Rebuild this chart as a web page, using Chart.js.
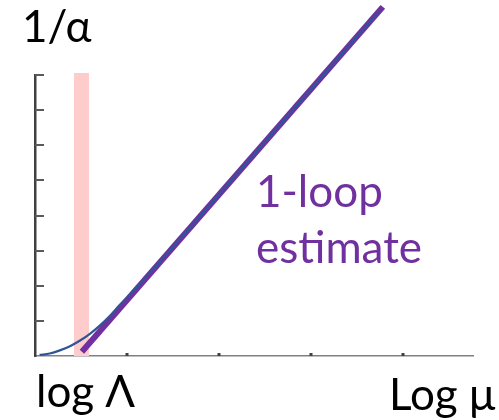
<!DOCTYPE html>
<html>
<head>
<meta charset="utf-8">
<script src="https://cdn.jsdelivr.net/npm/chart.js@4"></script>
<style>
  body { margin: 0; background: #fff; }
  #wrap { position: relative; width: 499px; height: 420px; }
  .lbl { position: absolute; font-family: Lato, "Open Sans", sans-serif; font-size: 44px; line-height: 44px; white-space: nowrap; color: #000; }
  .loop { color: #7030a0; }
</style>
</head>
<body>
<div id="wrap">
  <canvas id="myChart" width="499" height="420"></canvas>
  <div class="lbl" style="left:22px; top:3px;">1/α</div>
  <div class="lbl loop" style="left:256px; top:168px;">1-loop</div>
  <div class="lbl loop" style="left:256px; top:224px;">estimate</div>
  <div class="lbl" style="left:36px; top:368px;">log Λ</div>
  <div class="lbl" style="left:389px; top:371px;">Log μ</div>
</div>
<script>
// running coupling curve (blue)
var curveX = [0.05, 0.16, 0.27, 0.38, 0.49, 0.60, 0.71, 0.82, 0.92, 1.03, 1.14, 1.25, 1.36, 2.50, 3.75];
var curveY = [0.03, 0.07, 0.16, 0.28, 0.44, 0.64, 0.88, 1.16, 1.45, 1.74, 2.06, 2.37, 2.69, 6.10, 9.84];
// 1-loop straight line (purple)
var loopX = [0.51, 3.78];
var loopY = [0.12, 9.94];
// shaded band at log Lambda
var bandX = [0.505, 0.505];
var bandY = [0, 8.06];
// axis tick marks
var xTicks = [1, 2, 3, 4];
var yTicks = [1, 2, 3, 4, 5, 6, 7, 8];

function pts(xs, ys) {
    return xs.map(function(v, i) { return {x: v, y: ys[i]}; });
}

// ticks drawn on the inside of the axes
var innerTicks = {
    id: 'innerTicks',
    beforeDatasetsDraw: function(chart) {
        var ctx = chart.ctx, x = chart.scales.x, y = chart.scales.y;
        ctx.save();
        ctx.strokeStyle = '#5a5a5a';
        ctx.lineWidth = 2;
        yTicks.forEach(function(v) {
            var py = Math.round(y.getPixelForValue(v));
            ctx.beginPath();
            ctx.moveTo(x.left, py);
            ctx.lineTo(x.left + 9, py);
            ctx.stroke();
        });
        ctx.fillStyle = '#404040';
        xTicks.forEach(function(v) {
            var px = Math.round(x.getPixelForValue(v));
            ctx.fillRect(px - 1.5, y.bottom - 3, 3, 3);
        });
        ctx.restore();
    }
};

var ctx = document.getElementById('myChart').getContext('2d');
var myChart = new Chart(ctx, {
    type: 'line',
    data: {
        datasets: [{
            label: 'running',
            data: pts(curveX, curveY),
            borderColor: '#2f5597',
            borderWidth: 2.2,
            pointRadius: 0,
            cubicInterpolationMode: 'monotone',
            clip: false,
            order: 0
        }, {
            label: '1-loop',
            data: pts(loopX, loopY),
            borderColor: '#7030a0',
            borderWidth: 6,
            borderCapStyle: 'butt',
            pointRadius: 0,
            clip: false,
            order: 1
        }, {
            label: 'band',
            data: pts(bandX, bandY),
            borderColor: '#ffcccc',
            borderWidth: 15,
            borderCapStyle: 'butt',
            pointRadius: 0,
            clip: false,
            order: 2
        }]
    },
    options: {
        responsive: false,
        animation: false,
        layout: { padding: { left: 35, top: 75, right: 26, bottom: 64 } },
        plugins: { legend: { display: false }, tooltip: { enabled: false } },
        scales: {
            x: {
                type: 'linear', min: 0, max: 4.76,
                ticks: { display: false },
                grid: { drawOnChartArea: false, drawTicks: false },
                border: { color: '#808080', width: 1.5 }
            },
            y: {
                type: 'linear', min: 0, max: 8,
                ticks: { display: false },
                grid: { drawOnChartArea: false, drawTicks: false },
                border: { color: '#404040', width: 2.5 }
            }
        }
    },
    plugins: [innerTicks]
});
</script>
</body>
</html>
